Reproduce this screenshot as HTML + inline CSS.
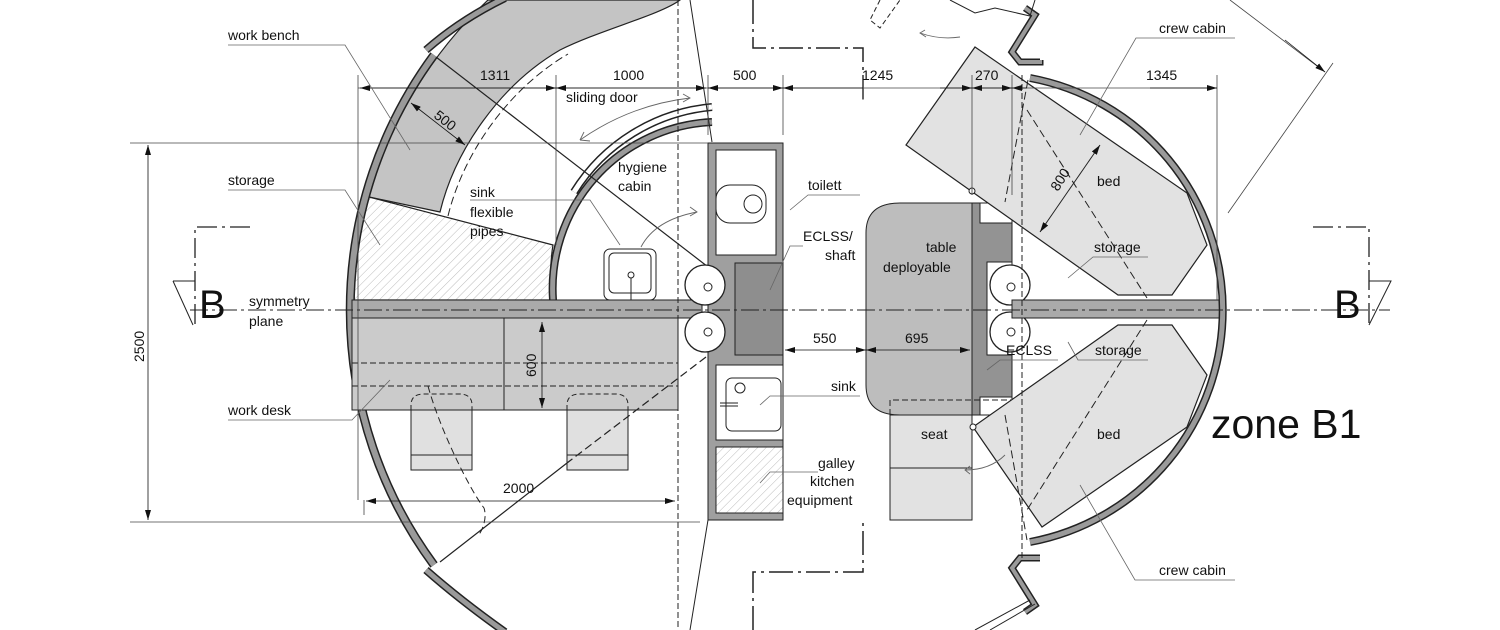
<!DOCTYPE html>
<html><head><meta charset="utf-8"><style>
html,body{margin:0;padding:0;background:#fff}
svg{display:block}
text{font-family:"Liberation Sans",Arial,sans-serif;font-size:14px;fill:#111}
</style></head><body>
<svg width="1500" height="630" viewBox="0 0 1500 630" xmlns="http://www.w3.org/2000/svg">
<defs>
<pattern id="h" width="6" height="6" patternUnits="userSpaceOnUse" patternTransform="rotate(45)">
<rect width="6" height="6" fill="#fff"/><line x1="0" y1="0" x2="0" y2="6" stroke="#bbb" stroke-width="1"/></pattern>
<marker id="a" markerWidth="10" markerHeight="6" refX="10" refY="3" orient="auto-start-reverse" markerUnits="userSpaceOnUse"><path d="M0,0 L10,3 L0,6Z" fill="#111"/></marker>
</defs>

<!-- bench band -->
<path d="M369,197 A426,426 0 0 1 488,0 L680,0 C660,15 600,30 560,50 C500,85 455,150 440,212 Z" fill="#c4c4c4" stroke="#222" stroke-width="1.2"/>
<path d="M440,212 C455,150 500,85 560,50" fill="none" stroke="#222" stroke-dasharray="8,4" transform="translate(8,4)"/>
<!-- storage hatch -->
<path d="M369,197 L553,245 A167,167 0 0 0 553,300 L354,300 A426,426 0 0 1 369,197Z" fill="url(#h)" stroke="#222" stroke-width="1.2"/>

<!-- left wall -->
<path d="M434,55 A430,430 0 0 0 434,565" fill="none" stroke="#222" stroke-width="9"/>
<path d="M434,55 A430,430 0 0 0 434,565" fill="none" stroke="#9a9a9a" stroke-width="6"/>
<path d="M426,50 Q460,20 505,-2" fill="none" stroke="#222" stroke-width="8"/>
<path d="M426,50 Q460,20 505,-2" fill="none" stroke="#9a9a9a" stroke-width="5"/>
<path d="M426,570 Q460,600 505,632" fill="none" stroke="#222" stroke-width="8"/>
<path d="M426,570 Q460,600 505,632" fill="none" stroke="#9a9a9a" stroke-width="5"/>

<!-- hygiene arc -->
<path d="M553,300 A167,167 0 0 1 712,122" fill="none" stroke="#222" stroke-width="8"/>
<path d="M553,300 A167,167 0 0 1 712,122" fill="none" stroke="#9a9a9a" stroke-width="5"/>
<path d="M574,192 A182,182 0 0 1 712,107" fill="none" stroke="#222" stroke-width="8"/>
<path d="M574,192 A182,182 0 0 1 712,107" fill="none" stroke="#fff" stroke-width="5"/>

<!-- shelf bar left -->
<rect x="352" y="300" width="350" height="18" fill="#aaa" stroke="#222"/>
<!-- work desk -->
<rect x="352" y="318" width="326" height="92" fill="#cbcbcb" stroke="#222"/>
<line x1="504" y1="318" x2="504" y2="410" stroke="#222"/>
<line x1="352" y1="363" x2="678" y2="363" stroke="#222" stroke-dasharray="6,3"/>
<line x1="352" y1="386" x2="678" y2="386" stroke="#222" stroke-dasharray="6,3"/>
<rect x="411" y="410" width="61" height="60" fill="#e0e0e0" stroke="#222"/>
<line x1="411" y1="455" x2="472" y2="455" stroke="#222"/>
<path d="M411,410 L411,405 Q411,394 424,394 L459,394 Q472,394 472,405 L472,410" fill="none" stroke="#222" stroke-dasharray="5,3"/>
<rect x="567" y="410" width="61" height="60" fill="#e0e0e0" stroke="#222"/>
<line x1="567" y1="455" x2="628" y2="455" stroke="#222"/>
<path d="M567,410 L567,405 Q567,394 580,394 L615,394 Q628,394 628,405 L628,410" fill="none" stroke="#222" stroke-dasharray="5,3"/>

<!-- sink basin -->
<rect x="604" y="249" width="52" height="51" rx="6" fill="#fff" stroke="#222"/>
<rect x="609" y="253" width="42" height="40" rx="5" fill="#fff" stroke="#222"/>
<circle cx="631" cy="275" r="3" fill="#fff" stroke="#222"/>
<line x1="631" y1="278" x2="631" y2="300" stroke="#222"/>

<!-- diagonal lines -->
<line x1="436" y1="57" x2="712" y2="270" stroke="#222" stroke-width="1.2"/>
<line x1="706" y1="357" x2="567" y2="463" stroke="#222" stroke-width="1.2" stroke-dasharray="8,4"/>
<line x1="567" y1="463" x2="440" y2="562" stroke="#222" stroke-width="1.2"/>
<path d="M428,386 C440,430 470,490 484,508 C488,520 480,535 478,535" fill="none" stroke="#222" stroke-dasharray="7,4"/>
<line x1="690" y1="0" x2="712" y2="142" stroke="#222"/>
<line x1="708" y1="520" x2="690" y2="630" stroke="#222"/>

<!-- center column -->
<rect x="708" y="143" width="75" height="377" fill="#9f9f9f" stroke="#222"/>
<rect x="716" y="150" width="60" height="105" fill="#fff" stroke="#222"/>
<rect x="716" y="185" width="50" height="38" rx="14" fill="#fff" stroke="#222"/>
<circle cx="753" cy="204" r="9" fill="#fff" stroke="#222"/>
<rect x="735" y="263" width="48" height="92" fill="#8e8e8e" stroke="#222"/>
<rect x="716" y="365" width="67" height="75" fill="#fff" stroke="#222"/>
<rect x="726" y="378" width="55" height="53" rx="6" fill="#fff" stroke="#222"/>
<circle cx="740" cy="388" r="5" fill="#fff" stroke="#222"/>
<line x1="720" y1="403" x2="738" y2="403" stroke="#222"/><line x1="720" y1="406" x2="738" y2="406" stroke="#222"/>
<rect x="716" y="447" width="67" height="66" fill="url(#h)" stroke="#222"/>
<circle cx="705" cy="285" r="20" fill="#fff" stroke="#222" stroke-width="1.3"/><circle cx="708" cy="287" r="4" fill="#fff" stroke="#222"/>
<circle cx="705" cy="332" r="20" fill="#fff" stroke="#222" stroke-width="1.3"/><circle cx="708" cy="332" r="4" fill="#fff" stroke="#222"/>

<!-- right: table -->
<path d="M900,203 L972,203 L972,415 L900,415 Q866,415 866,385 L866,233 Q866,203 900,203Z" fill="#bdbdbd" stroke="#222"/>
<rect x="972" y="203" width="40" height="212" fill="#939393" stroke="#222"/>
<rect x="980" y="203" width="32" height="20" fill="#fff" stroke="#222"/>
<rect x="987" y="262" width="25" height="93" fill="#fff" stroke="#222"/>
<rect x="980" y="397" width="32" height="18" fill="#fff" stroke="#222"/>
<circle cx="1010" cy="285" r="20" fill="#fff" stroke="#222" stroke-width="1.3"/><circle cx="1011" cy="287" r="4" fill="#fff" stroke="#222"/>
<circle cx="1010" cy="332" r="20" fill="#fff" stroke="#222" stroke-width="1.3"/><circle cx="1011" cy="332" r="4" fill="#fff" stroke="#222"/>
<rect x="890" y="415" width="82" height="105" fill="#e2e2e2" stroke="#222"/>
<line x1="890" y1="468" x2="972" y2="468" stroke="#222"/>
<path d="M890,415 L890,400 L1012,400 L1012,415" fill="none" stroke="#222" stroke-dasharray="6,3"/>

<!-- beds -->
<polygon points="975,47 1187,193 1207,245 1172,295 1118,295 906,145" fill="#e2e2e2" stroke="#222" stroke-width="1.2"/>
<polygon points="973,427 1118,325 1172,325 1207,375 1187,427 1042,527" fill="#e2e2e2" stroke="#222" stroke-width="1.2"/>
<circle cx="972" cy="191" r="3" fill="#fff" stroke="#222"/>
<circle cx="973" cy="427" r="3" fill="#fff" stroke="#222"/>
<path d="M1028,80 L1005,202 M1027,110 L1147,298" fill="none" stroke="#222" stroke-dasharray="8,4"/>
<path d="M1147,320 L1027,510 M1005,415 L1027,540" fill="none" stroke="#222" stroke-dasharray="8,4"/>
<line x1="1100" y1="145" x2="1040" y2="232" stroke="#222" marker-start="url(#a)" marker-end="url(#a)"/>

<!-- right shelf -->
<rect x="1012" y="300" width="210" height="18" fill="#aaa" stroke="#222"/>
<!-- right wall -->
<path d="M1030,78 A236,236 0 0 1 1030,542" fill="none" stroke="#222" stroke-width="8"/>
<path d="M1030,78 A236,236 0 0 1 1030,542" fill="none" stroke="#9a9a9a" stroke-width="5"/>
<path d="M1040,60 L1040,62 L1020,62 L1012,52 L1035,15 L1025,8" fill="none" stroke="#222" stroke-width="7"/>
<path d="M1040,60 L1040,62 L1020,62 L1012,52 L1035,15 L1025,8" fill="none" stroke="#9a9a9a" stroke-width="4"/>
<path d="M1040,558 L1020,558 L1012,568 L1035,605 L1025,612" fill="none" stroke="#222" stroke-width="7"/>
<path d="M1040,558 L1020,558 L1012,568 L1035,605 L1025,612" fill="none" stroke="#9a9a9a" stroke-width="4"/>
<path d="M950,0 L975,13 L995,8 L1030,16 L1035,0" fill="none" stroke="#222"/>
<path d="M880,0 L870,20 L880,28 L900,0" fill="none" stroke="#222" stroke-dasharray="5,3"/>
<path d="M975,630 L1030,600" fill="none" stroke="#222"/>
<path d="M990,630 L1035,604" fill="none" stroke="#222"/>

<!-- centerlines -->
<line x1="190" y1="310" x2="1390" y2="310" stroke="#222" stroke-dasharray="18,4,3,4"/>
<line x1="678" y1="0" x2="678" y2="630" stroke="#222" stroke-dasharray="6,3"/>
<line x1="1022" y1="75" x2="1022" y2="560" stroke="#222" stroke-dasharray="6,3"/>
<path d="M753,0 L753,48 L863,48 L863,100" fill="none" stroke="#222" stroke-width="1.5" stroke-dasharray="24,5,3,5"/>
<path d="M753,630 L753,572 L863,572 L863,520" fill="none" stroke="#222" stroke-width="1.5" stroke-dasharray="24,5,3,5"/>
<path d="M250,227 L195,227 L195,325" fill="none" stroke="#222" stroke-width="1.3" stroke-dasharray="20,5,3,5"/>
<path d="M173,281 L195,281 M173,281 L193,325" fill="none" stroke="#222"/>
<path d="M1313,227 L1369,227 L1369,325" fill="none" stroke="#222" stroke-width="1.3" stroke-dasharray="20,5,3,5"/>
<path d="M1369,281 L1391,281 L1369,325" fill="none" stroke="#222"/>

<!-- dimension lines -->
<g stroke="#444" stroke-width="0.8">
<line x1="358" y1="88" x2="1217" y2="88"/>
<line x1="358" y1="75" x2="358" y2="500"/>
<line x1="556" y1="75" x2="556" y2="245"/>
<line x1="708" y1="75" x2="708" y2="135"/>
<line x1="783" y1="75" x2="783" y2="135"/>
<line x1="863" y1="75" x2="863" y2="100"/>
<line x1="972" y1="75" x2="972" y2="195"/>
<line x1="1012" y1="75" x2="1012" y2="195"/>
<line x1="1217" y1="75" x2="1217" y2="300"/>
<line x1="130" y1="143" x2="708" y2="143"/>
<line x1="130" y1="522" x2="700" y2="522"/>
<line x1="364" y1="500" x2="364" y2="515"/>
<line x1="1228" y1="213" x2="1333" y2="63"/>
<line x1="1230" y1="0" x2="1325" y2="72"/>
</g>
<g stroke="#111" stroke-width="0.8" fill="none">
<line x1="148" y1="145" x2="148" y2="520" marker-start="url(#a)" marker-end="url(#a)"/>
<line x1="360" y1="88" x2="556" y2="88" marker-start="url(#a)" marker-end="url(#a)"/>
<line x1="556" y1="88" x2="706" y2="88" marker-start="url(#a)" marker-end="url(#a)"/>
<line x1="708" y1="88" x2="783" y2="88" marker-start="url(#a)" marker-end="url(#a)"/>
<line x1="783" y1="88" x2="863" y2="88" marker-start="url(#a)"/>
<line x1="940" y1="88" x2="972" y2="88" marker-end="url(#a)"/>
<line x1="972" y1="88" x2="1012" y2="88" marker-start="url(#a)" marker-end="url(#a)"/>
<line x1="1012" y1="88" x2="1027" y2="88" marker-start="url(#a)"/>
<line x1="1150" y1="88" x2="1217" y2="88" marker-end="url(#a)"/>
<line x1="366" y1="501" x2="675" y2="501" marker-start="url(#a)" marker-end="url(#a)"/>
<line x1="542" y1="322" x2="542" y2="408" marker-start="url(#a)" marker-end="url(#a)"/>
<line x1="785" y1="350" x2="866" y2="350" marker-start="url(#a)" marker-end="url(#a)"/>
<line x1="866" y1="350" x2="970" y2="350" marker-start="url(#a)" marker-end="url(#a)"/>
<line x1="411" y1="103" x2="465" y2="145" marker-start="url(#a)" marker-end="url(#a)"/>
<line x1="1285" y1="40" x2="1325" y2="72" marker-end="url(#a)"/>
</g>
<!-- sweep arrows -->
<g stroke="#666" stroke-width="0.9" fill="none">
<path d="M580,140 Q630,105 690,98"/><path d="M683,94 L690,98 L683,102"/><path d="M580,140 L590,141 M580,140 L584,132"/>
<path d="M641,247 Q655,220 697,212"/><path d="M690,207 L697,212 L690,216"/>
<path d="M960,37 Q940,40 920,33"/><path d="M925,30 L920,33 L926,37"/>
<path d="M1005,455 Q990,470 965,470"/><path d="M970,466 L965,470 L970,474"/>
</g>
<!-- leaders -->
<g stroke="#666" stroke-width="0.8" fill="none">
<path d="M228,45 L345,45 L410,150"/>
<path d="M228,190 L345,190 L380,245"/>
<path d="M228,420 L352,420 L390,380"/>
<path d="M470,200 L590,200 L620,245"/>
<path d="M860,195 L808,195 L790,210"/>
<path d="M803,246 L790,246 L770,290"/>
<path d="M860,396 L770,396 L760,405"/>
<path d="M818,472 L770,472 L760,483"/>
<path d="M1235,38 L1136,38 L1080,135"/>
<path d="M1148,257 L1093,257 L1068,278"/>
<path d="M1148,360 L1078,360 L1068,342"/>
<path d="M1058,360 L1000,360 L987,370"/>
<path d="M1235,580 L1135,580 L1080,485"/>
</g>

<!-- texts -->
<text x="228" y="40">work bench</text>
<text x="228" y="185">storage</text>
<text x="249" y="306">symmetry</text>
<text x="249" y="326">plane</text>
<text x="228" y="415">work desk</text>
<text x="199" y="318" style="font-size:40px">B</text>
<text x="1334" y="318" style="font-size:40px">B</text>
<text x="0" y="0" transform="translate(144,362) rotate(-90)">2500</text>
<text x="480" y="80">1311</text>
<text x="613" y="80">1000</text>
<text x="733" y="80">500</text>
<text x="862" y="80">1245</text>
<text x="975" y="80">270</text>
<text x="1146" y="80">1345</text>
<text x="0" y="0" transform="translate(433,117) rotate(38)">500</text>
<text x="566" y="102">sliding door</text>
<text x="618" y="172">hygiene</text>
<text x="618" y="191">cabin</text>
<text x="470" y="197">sink</text>
<text x="470" y="217">flexible</text>
<text x="470" y="236">pipes</text>
<text x="808" y="190">toilett</text>
<text x="803" y="241">ECLSS/</text>
<text x="825" y="260">shaft</text>
<text x="926" y="252">table</text>
<text x="883" y="272">deployable</text>
<text x="813" y="343">550</text>
<text x="905" y="343">695</text>
<text x="1006" y="355">ECLSS</text>
<text x="831" y="391">sink</text>
<text x="921" y="439">seat</text>
<text x="818" y="468">galley</text>
<text x="810" y="486">kitchen</text>
<text x="787" y="505">equipment</text>
<text x="0" y="0" transform="translate(536,377) rotate(-90)">600</text>
<text x="503" y="493">2000</text>
<text x="1159" y="33">crew cabin</text>
<text x="1097" y="186">bed</text>
<text x="1094" y="252">storage</text>
<text x="1095" y="355">storage</text>
<text x="1097" y="439">bed</text>
<text x="1159" y="575">crew cabin</text>
<text x="0" y="0" transform="translate(1058,192) rotate(-58)">800</text>
<text x="1211" y="438" style="font-size:41px">zone B1</text>
</svg>
</body></html>
